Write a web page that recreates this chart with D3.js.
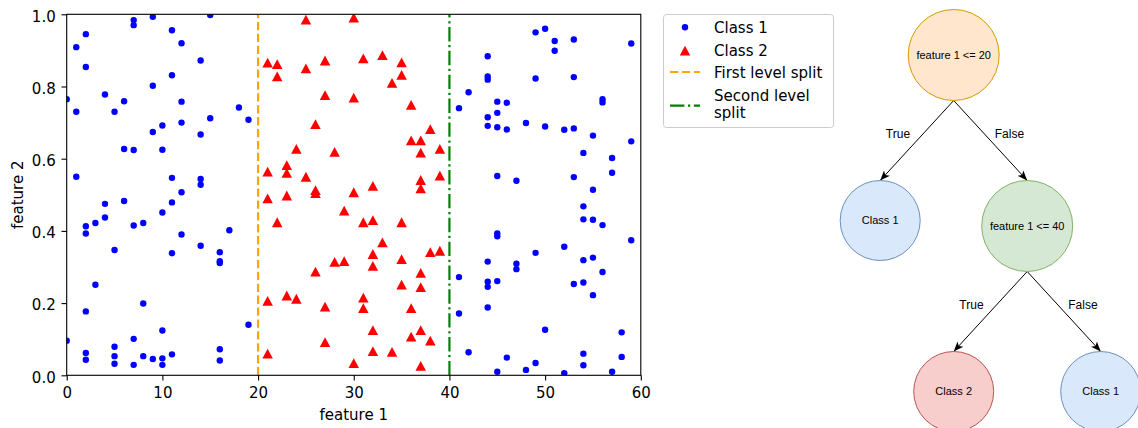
<!DOCTYPE html>
<html><head><meta charset="utf-8">
<script src="https://cdn.jsdelivr.net/npm/d3@7/dist/d3.min.js"></script>
<style>body{margin:0;background:#fff}svg{display:block}</style>
</head><body>
<svg id="c" width="1138" height="428"></svg>
<script>
// ---------- data ----------
const class1X = [0,1,2,2,1,4,5,6,7,7,9,9,11,12,11,12,14,15,18,19,15,12,10,9,14,6,7,10,1,11,14,14,12,
 4,6,11,10,4,3,2,2,7,8,12,17,5,11,14,16,16,16,3,2,8,19,0,10,7,5,2,2,5,5,7,8,9,10,10,11,16,16,
 49,50,51,53,51,59,44,44,44,49,53,42,41,45,46,56,56,44,45,44,45,46,48,50,52,53,55,59,54,57,57,45,47,53,55,
 54,54,55,56,45,45,59,52,49,44,47,47,54,55,56,41,44,44,45,53,54,55,44,41,50,58,42,46,49,54,54,58,45,48,52,57];
const class1Y = [0.765,0.909,0.945,0.854,0.730,0.778,0.730,0.759,0.984,0.970,0.993,0.802,0.956,0.920,0.831,0.758,0.872,0.998,0.742,0.708,0.712,0.700,0.692,0.674,0.667,0.627,0.624,0.625,0.550,0.547,0.544,0.528,0.507,
 0.475,0.483,0.479,0.451,0.437,0.422,0.413,0.393,0.415,0.422,0.390,0.402,0.347,0.338,0.359,0.341,0.316,0.311,0.251,0.177,0.199,0.140,0.096,0.124,0.101,0.079,0.062,0.043,0.053,0.032,0.029,0.053,0.045,0.047,0.029,0.058,0.072,0.041,
 0.950,0.960,0.926,0.930,0.899,0.919,0.884,0.828,0.819,0.822,0.826,0.784,0.740,0.758,0.755,0.765,0.756,0.715,0.727,0.691,0.687,0.681,0.699,0.689,0.680,0.684,0.664,0.648,0.616,0.602,0.561,0.552,0.539,0.549,0.514,
 0.468,0.432,0.431,0.416,0.393,0.385,0.374,0.356,0.339,0.315,0.309,0.294,0.319,0.326,0.286,0.272,0.259,0.245,0.261,0.253,0.257,0.222,0.188,0.171,0.126,0.119,0.064,0.049,0.034,0.060,0.028,0.051,0.010,0.015,0.006,0.010];
const class2X = [25,30,21,22,22,25,27,31,33,35,35,34,27,30,36,26,38,36,37,37,39,24,28,23,23,21,25,37,37,39,32,26,26,30,21,23,
 29,22,31,32,35,33,32,32,28,29,26,35,37,38,39,35,37,21,23,24,31,31,27,36,32,37,36,38,27,32,34,21,30,37];
const class2Y = [0.985,0.991,0.866,0.862,0.828,0.850,0.872,0.878,0.887,0.867,0.832,0.810,0.776,0.769,0.749,0.696,0.682,0.651,0.651,0.617,0.627,0.627,0.619,0.582,0.561,0.564,0.550,0.541,0.518,0.553,0.525,0.513,0.505,0.507,0.490,0.498,
 0.456,0.424,0.424,0.430,0.424,0.368,0.336,0.303,0.314,0.316,0.287,0.322,0.284,0.341,0.345,0.251,0.244,0.206,0.221,0.212,0.215,0.186,0.190,0.186,0.125,0.125,0.107,0.096,0.092,0.067,0.065,0.060,0.034,0.026];
const xTicks = [0,10,20,30,40,50,60];
const yTicks = [0.0,0.2,0.4,0.6,0.8,1.0];
const splits = [20, 40];
const legendLabels = ["Class 1","Class 2","First level split","Second level split"];
// tree
const treeIds     = ["root","leafA","node2","leafB","leafC"];
const treeParents = [null,"root","root","node2","node2"];
const treeLabels  = ["feature 1 <= 20","Class 1","feature 1 <= 40","Class 2","Class 1"];
const treeKinds   = ["split1","class1","split2","class2","class1"];
const edgeLabels  = [null,"True","False","True","False"];

// ---------- scatter ----------
const svg = d3.select("#c");
svg.append("rect").attr("width",1138).attr("height",428).attr("fill","#fff");
const L=66.7,R=640.8,T=14.3,B=375.3;
const x = d3.scaleLinear().domain([0,60]).range([L,R]);
const y = d3.scaleLinear().domain([0,1]).range([B,T]);
const FONT = "DejaVu Sans, sans-serif";

svg.append("clipPath").attr("id","clip").append("rect")
  .attr("x",L).attr("y",T).attr("width",R-L).attr("height",B-T);
const plot = svg.append("g").attr("clip-path","url(#clip)");

plot.selectAll("circle.c1").data(class1X.map((v,i)=>[v,class1Y[i]])).join("circle")
  .attr("cx",d=>x(d[0])).attr("cy",d=>y(d[1])).attr("r",3.2).attr("fill","#0000ff");

const tri = (w,h)=>`M0,${-h/2}L${w/2},${h/2}L${-w/2},${h/2}Z`;
plot.selectAll("path.c2").data(class2X.map((v,i)=>[v,class2Y[i]])).join("path")
  .attr("d",tri(10.5,9.8)).attr("transform",d=>`translate(${x(d[0])},${y(d[1])})`).attr("fill","#ff0000");

const dash1="8.3,3.6", dash2="14.4,3.6,2.25,3.6";
plot.append("line").attr("x1",x(splits[0])).attr("x2",x(splits[0])).attr("y1",B).attr("y2",T)
  .attr("stroke","#ffa500").attr("stroke-width",2.2).attr("stroke-dasharray",dash1);
plot.append("line").attr("x1",x(splits[1])).attr("x2",x(splits[1])).attr("y1",B).attr("y2",T)
  .attr("stroke","#008000").attr("stroke-width",2.2).attr("stroke-dasharray",dash2);

// frame
svg.append("rect").attr("x",L).attr("y",T).attr("width",R-L).attr("height",B-T)
  .attr("fill","none").attr("stroke","#000").attr("stroke-width",1.1);

const gx = svg.append("g").attr("transform",`translate(0,${B})`)
  .call(d3.axisBottom(x).tickValues(xTicks).tickFormat(d3.format("d")).tickSize(5.2).tickPadding(7));
const gy = svg.append("g").attr("transform",`translate(${L},0)`)
  .call(d3.axisLeft(y).tickValues(yTicks).tickFormat(d3.format(".1f")).tickSize(5.2).tickPadding(5.8));
[gx,gy].forEach(g=>{
  g.select(".domain").remove();
  g.selectAll("line").attr("stroke","#000").attr("stroke-width",1.1);
  g.selectAll("text").attr("font-family",FONT).attr("font-size",15).attr("fill","#000");
});
gy.selectAll("text").attr("dy","0.45em");
svg.append("text").attr("x",(L+R)/2).attr("y",419.5).attr("text-anchor","middle")
  .attr("font-family",FONT).attr("font-size",15).text("feature 1");
svg.append("text").attr("transform",`translate(22.5,${(T+B)/2}) rotate(-90)`).attr("text-anchor","middle")
  .attr("font-family",FONT).attr("font-size",15).text("feature 2");

// legend
const lg = svg.append("g");
lg.append("rect").attr("x",663.5).attr("y",14.5).attr("width",170).attr("height",113).attr("rx",3)
  .attr("fill","#fff").attr("stroke","#cccccc").attr("stroke-width",1);
lg.append("circle").attr("cx",685).attr("cy",27.3).attr("r",3.2).attr("fill","#0000ff");
lg.append("path").attr("d",tri(10.5,9.8)).attr("transform","translate(685,50.7)").attr("fill","#ff0000");
lg.append("line").attr("x1",670).attr("x2",700).attr("y1",72).attr("y2",72)
  .attr("stroke","#ffa500").attr("stroke-width",2.2).attr("stroke-dasharray",dash1);
lg.append("line").attr("x1",670).attr("x2",700).attr("y1",105.7).attr("y2",105.7)
  .attr("stroke","#008000").attr("stroke-width",2.2).attr("stroke-dasharray",dash2);
const ltext = (t,yb)=>lg.append("text").attr("x",714).attr("y",yb).attr("font-family",FONT).attr("font-size",15).text(t);
ltext(legendLabels[0],33);
ltext(legendLabels[1],56.3);
ltext(legendLabels[2],78);
const [w1,...rest] = legendLabels[3].split(" ");
ltext(w1+" "+rest[0],101.3);
ltext(rest[1],117.8);

// ---------- tree ----------
const kindStyle = {
  split1:{fill:"#ffe6cc",stroke:"#d79b00",r:45.5},
  split2:{fill:"#d5e8d4",stroke:"#82b366",r:45.5},
  class1:{fill:"#dae8fc",stroke:"#6c8ebf",r:40},
  class2:{fill:"#f8cecc",stroke:"#b85450",r:40}
};
const tdata = treeIds.map((id,i)=>({id,parentId:treeParents[i],label:treeLabels[i],kind:treeKinds[i],edge:edgeLabels[i]}));
const root = d3.stratify().id(d=>d.id).parentId(d=>d.parentId)(tdata);
d3.tree().nodeSize([147,171]).separation(()=>1)(root);
const X0 = 953.7, TOP0 = 9.5;
root.each(n=>{
  const r = kindStyle[n.data.kind].r;
  n.px = X0 + n.x; n.r = r; n.py = TOP0 + n.y + r;
});
const TF = "Liberation Sans, Arial, Helvetica, sans-serif";
svg.append("defs").append("marker").attr("id","arr").attr("viewBox","-10 -5 11 10")
  .attr("refX",0).attr("refY",0).attr("markerWidth",11).attr("markerHeight",10)
  .attr("markerUnits","userSpaceOnUse").attr("orient","auto")
  .append("path").attr("d","M0,0L-10,-4L-7.5,0L-10,4Z").attr("fill","#000");
const tg = svg.append("g");
root.links().forEach(l=>{
  const s=l.source,t=l.target;
  const x1=s.px,y1=s.py+s.r,x2=t.px,y2=t.py-t.r;
  tg.append("line").attr("x1",x1).attr("y1",y1).attr("x2",x2).attr("y2",y2)
    .attr("stroke","#000").attr("stroke-width",1).attr("marker-end","url(#arr)");
  const sgn = t.px < s.px ? -1 : 1;
  tg.append("text").attr("x",(x1+x2)/2+sgn*19).attr("y",(y1+y2)/2-7).attr("dy","0.35em")
    .attr("text-anchor","middle").attr("font-family",TF).attr("font-size",12).text(t.data.edge);
});
root.descendants().forEach(n=>{
  const st = kindStyle[n.data.kind];
  tg.append("circle").attr("cx",n.px).attr("cy",n.py).attr("r",n.r)
    .attr("fill",st.fill).attr("stroke",st.stroke).attr("stroke-width",1);
  tg.append("text").attr("x",n.px).attr("y",n.py).attr("dy","0.35em").attr("text-anchor","middle")
    .attr("font-family",TF).attr("font-size",11).attr("fill","#000").text(n.data.label);
});
</script>
</body></html>
